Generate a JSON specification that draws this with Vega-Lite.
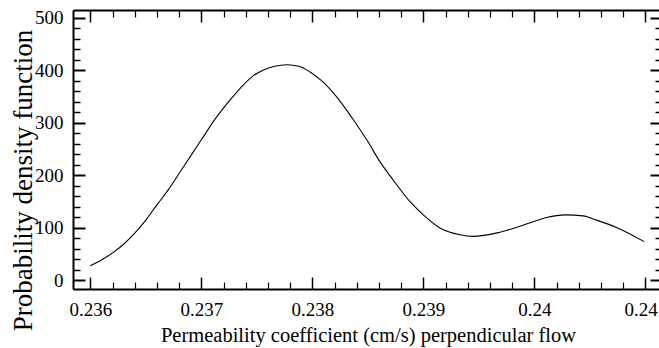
{
  "$schema": "https://vega.github.io/schema/vega-lite/v6.json",
  "width": 589,
  "height": 279,
  "autosize": {"type": "none"},
  "padding": {"left": 73, "top": 10, "right": -3, "bottom": 59},
  "background": "white",
  "config": {
    "font": "Liberation Serif",
    "view": {"stroke": null},
    "axis": {
      "grid": false,
      "labelFont": "Liberation Serif",
      "titleFont": "Liberation Serif",
      "labelColor": "black",
      "titleColor": "black",
      "titleFontWeight": "normal",
      "domainColor": "black",
      "tickColor": "black",
      "domainWidth": 2
    }
  },
  "data": {
    "values": [
      {"k": 0.2360, "pdf": 28},
      {"k": 0.23610, "pdf": 39},
      {"k": 0.23621, "pdf": 54},
      {"k": 0.23631, "pdf": 71},
      {"k": 0.23640, "pdf": 90},
      {"k": 0.23650, "pdf": 115},
      {"k": 0.23660, "pdf": 144},
      {"k": 0.23670, "pdf": 172},
      {"k": 0.23681, "pdf": 207},
      {"k": 0.23690, "pdf": 236},
      {"k": 0.23700, "pdf": 268},
      {"k": 0.23714, "pdf": 312},
      {"k": 0.23726, "pdf": 344},
      {"k": 0.23735, "pdf": 366},
      {"k": 0.23745, "pdf": 387},
      {"k": 0.23756, "pdf": 401},
      {"k": 0.23766, "pdf": 408},
      {"k": 0.23777, "pdf": 411},
      {"k": 0.23788, "pdf": 408},
      {"k": 0.23798, "pdf": 397},
      {"k": 0.23808, "pdf": 381},
      {"k": 0.23821, "pdf": 352},
      {"k": 0.23836, "pdf": 309},
      {"k": 0.23849, "pdf": 268},
      {"k": 0.23861, "pdf": 226},
      {"k": 0.23873, "pdf": 191},
      {"k": 0.23888, "pdf": 150},
      {"k": 0.23900, "pdf": 125},
      {"k": 0.23915, "pdf": 100},
      {"k": 0.23933, "pdf": 87},
      {"k": 0.23945, "pdf": 84},
      {"k": 0.23969, "pdf": 92},
      {"k": 0.23999, "pdf": 112},
      {"k": 0.24011, "pdf": 120},
      {"k": 0.24028, "pdf": 125},
      {"k": 0.24044, "pdf": 123},
      {"k": 0.24056, "pdf": 115},
      {"k": 0.24074, "pdf": 101},
      {"k": 0.24099, "pdf": 74}
    ]
  },
  "resolve": {"axis": {"x": "independent", "y": "independent"}},
  "layer": [
    {
      "mark": {"type": "line", "color": "black", "strokeWidth": 1.1, "interpolate": "monotone"},
      "encoding": {
        "x": {
          "field": "k", "type": "quantitative",
          "scale": {"domain": [0.235844, 0.24115], "nice": false, "zero": false},
          "axis": {
            "orient": "bottom",
            "values": [0.236, 0.237, 0.238, 0.239, 0.24, 0.241],
            "format": ".3~f",
            "ticks": false, "tickSize": 0,
            "labelFont": "Liberation Serif",
            "labelFontSize": 19,
            "labelBaseline": "alphabetic",
            "labelPadding": 26.5,
            "labelFlush": false,
            "labelOverlap": false,
            "title": "Permeability coefficient (cm/s) perpendicular flow",
            "titleFont": "Liberation Serif",
            "titleFontSize": 20.5,
            "titleX": 295,
            "titleY": 52.5,
            "titleBaseline": "alphabetic",
            "titleAlign": "center"
          }
        },
        "y": {
          "field": "pdf", "type": "quantitative",
          "scale": {"domain": [-16.2, 515.2], "nice": false, "zero": false},
          "axis": {
            "orient": "left",
            "values": [0, 100, 200, 300, 400, 500],
            "ticks": false, "tickSize": 0,
            "labelFont": "Liberation Serif",
            "labelFontSize": 19,
            "labelPadding": 10,
            "labelBaseline": "middle",
            "labelFlush": false,
            "labelOverlap": false,
            "title": "Probability density function",
            "titleFont": "Liberation Serif",
            "titleFontSize": 27,
            "titleAngle": -90,
            "titleX": -50,
            "titleY": 170,
            "titleBaseline": "middle",
            "titleAlign": "center"
          }
        }
      }
    },
    {
      "mark": {"type": "line", "opacity": 0},
      "encoding": {
        "x": {
          "field": "k", "type": "quantitative",
          "scale": {"domain": [0.235844, 0.24115], "nice": false, "zero": false},
          "axis": {
            "orient": "bottom", "domain": false, "labels": false, "title": null,
            "values": [0.2362, 0.2364, 0.2366, 0.2368, 0.2372, 0.2374, 0.2376, 0.2378, 0.2382, 0.2384, 0.2386, 0.2388, 0.2392, 0.2394, 0.2396, 0.2398, 0.2402, 0.2404, 0.2406, 0.2408],
            "tickSize": -7, "tickWidth": 1.2
          }
        },
        "y": {
          "field": "pdf", "type": "quantitative",
          "scale": {"domain": [-16.2, 515.2], "nice": false, "zero": false},
          "axis": {
            "orient": "left", "domain": false, "labels": false, "title": null,
            "values": [20, 40, 60, 80, 120, 140, 160, 180, 220, 240, 260, 280, 320, 340, 360, 380, 420, 440, 460, 480],
            "tickSize": -7, "tickWidth": 1.5
          }
        }
      }
    },
    {
      "mark": {"type": "line", "opacity": 0},
      "encoding": {
        "x": {
          "field": "k", "type": "quantitative",
          "scale": {"domain": [0.235844, 0.24115], "nice": false, "zero": false},
          "axis": {
            "orient": "top", "domain": true, "labels": false, "title": null,
            "values": [0.236, 0.237, 0.238, 0.239, 0.24, 0.241],
            "tickSize": -12, "tickWidth": 1.5
          }
        },
        "y": {
          "field": "pdf", "type": "quantitative",
          "scale": {"domain": [-16.2, 515.2], "nice": false, "zero": false},
          "axis": {
            "orient": "right", "domain": true, "labels": false, "title": null,
            "values": [0, 100, 200, 300, 400, 500],
            "tickSize": -12, "tickWidth": 2
          }
        }
      }
    },
    {
      "mark": {"type": "line", "opacity": 0},
      "encoding": {
        "x": {
          "field": "k", "type": "quantitative",
          "scale": {"domain": [0.235844, 0.24115], "nice": false, "zero": false},
          "axis": {
            "orient": "top", "domain": false, "labels": false, "title": null,
            "values": [0.2362, 0.2364, 0.2366, 0.2368, 0.2372, 0.2374, 0.2376, 0.2378, 0.2382, 0.2384, 0.2386, 0.2388, 0.2392, 0.2394, 0.2396, 0.2398, 0.2402, 0.2404, 0.2406, 0.2408],
            "tickSize": -7, "tickWidth": 1.2
          }
        },
        "y": {
          "field": "pdf", "type": "quantitative",
          "scale": {"domain": [-16.2, 515.2], "nice": false, "zero": false},
          "axis": {
            "orient": "right", "domain": false, "labels": false, "title": null,
            "values": [20, 40, 60, 80, 120, 140, 160, 180, 220, 240, 260, 280, 320, 340, 360, 380, 420, 440, 460, 480],
            "tickSize": -7, "tickWidth": 1.5
          }
        }
      }
    },
    {
      "mark": {"type": "line", "opacity": 0},
      "encoding": {
        "x": {
          "field": "k", "type": "quantitative",
          "scale": {"domain": [0.235844, 0.24115], "nice": false, "zero": false},
          "axis": {
            "orient": "bottom", "domain": false, "labels": false, "title": null,
            "values": [0.236, 0.237, 0.238, 0.239, 0.24, 0.241],
            "tickSize": -12, "tickWidth": 1.5
          }
        },
        "y": {
          "field": "pdf", "type": "quantitative",
          "scale": {"domain": [-16.2, 515.2], "nice": false, "zero": false},
          "axis": {
            "orient": "left", "domain": false, "labels": false, "title": null,
            "values": [0, 100, 200, 300, 400, 500],
            "tickSize": -12, "tickWidth": 2
          }
        }
      }
    }
  ]
}
